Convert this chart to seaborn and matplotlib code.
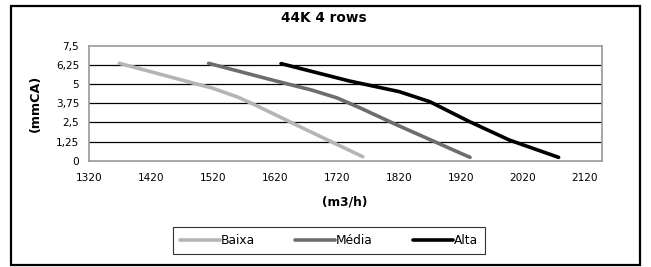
import pandas as pd
import seaborn as sns
import matplotlib.pyplot as plt
from matplotlib.patches import Rectangle

# values
baixa_x = [1369, 1520, 1560, 1590, 1670, 1762]
baixa_y = [6.35, 4.72, 4.15, 3.6, 2.03, 0.26]

media_x = [1513, 1612, 1680, 1720, 1760, 1816, 1935]
media_y = [6.35, 5.3, 4.6, 4.1, 3.4, 2.35, 0.22]

alta_x = [1630, 1740, 1821, 1870, 1934, 1999, 2078]
alta_y = [6.33, 5.2, 4.5, 3.85, 2.55, 1.34, 0.22]

series_names = ["Baixa", "Média", "Alta"]
series_colors = ["#b5b5b5", "#6b6d70", "#000000"]

x_ticks = [1320, 1420, 1520, 1620, 1720, 1820, 1920, 2020, 2120]
y_ticks = [0, 1.25, 2.5, 3.75, 5, 6.25, 7.5]
y_tick_labels = ["0", "1,25", "2,5", "3,75", "5", "6,25", "7,5"]

# long table for seaborn
rows = []
for name, xs, ys in zip(series_names, [baixa_x, media_x, alta_x], [baixa_y, media_y, alta_y]):
    for x, y in zip(xs, ys):
        rows.append({"vazao": x, "pressao": y, "serie": name})
df = pd.DataFrame(rows)

sns.set_style("white")
plt.rcParams['font.family'] = ['DejaVu Sans']
plt.rcParams['text.color'] = 'black'

fig = plt.figure(figsize=(6.51, 2.67), dpi=100)
ax = fig.add_axes([0.1367, 0.398, 0.788, 0.431])

sns.lineplot(data=df, x="vazao", y="pressao", hue="serie", hue_order=series_names,
             palette=series_colors, linewidth=2.6, sort=False, estimator=None,
             legend=False, ax=ax)

ax.set_xlim(1320, 2148)
ax.set_ylim(0, 7.5)
ax.set_xticks(x_ticks)
ax.set_yticks(y_ticks)
ax.set_yticklabels(y_tick_labels)
ax.tick_params(axis="both", labelsize=7.6, direction="out", length=4, width=0.8,
               color="#808080", labelcolor="black", pad=3)
ax.tick_params(axis="x", pad=5)
ax.set_xlabel("")
ax.set_ylabel("")

# horizontal gridlines
for y in y_ticks[1:-1]:
    ax.axhline(y, color="black", linewidth=0.9, zorder=0)
for s in ax.spines.values():
    s.set_color("#9a9a9a")
    s.set_linewidth(1.2)

# texts
fig.text(0.498, 0.932, "44K 4 rows", ha="center", va="center", fontsize=9.8, fontweight="bold")
fig.text(0.53, 0.245, "(m3/h)", ha="center", va="center", fontsize=8.8, fontweight="bold")
fig.text(0.054, 0.614, "(mmCA)", ha="center", va="center", rotation=90, fontsize=9.2, fontweight="bold")

# legend
handles = [plt.Line2D([], [], color=c, linewidth=2.6) for c in series_colors]
leg = fig.legend(handles, series_names, loc="center", bbox_to_anchor=(0.505, 0.10), ncol=3,
                 fontsize=8.8, frameon=True, fancybox=False, handlelength=3.3,
                 handletextpad=0.05, columnspacing=3.3, borderpad=0.55)
leg.get_frame().set_edgecolor("black")
leg.get_frame().set_linewidth(0.8)

# outer border
fig.patches.append(Rectangle((0.017, 0.008), 0.966, 0.97, transform=fig.transFigure,
                             fill=False, edgecolor="black", linewidth=1.6))

fig.savefig("out.png", dpi=100)
